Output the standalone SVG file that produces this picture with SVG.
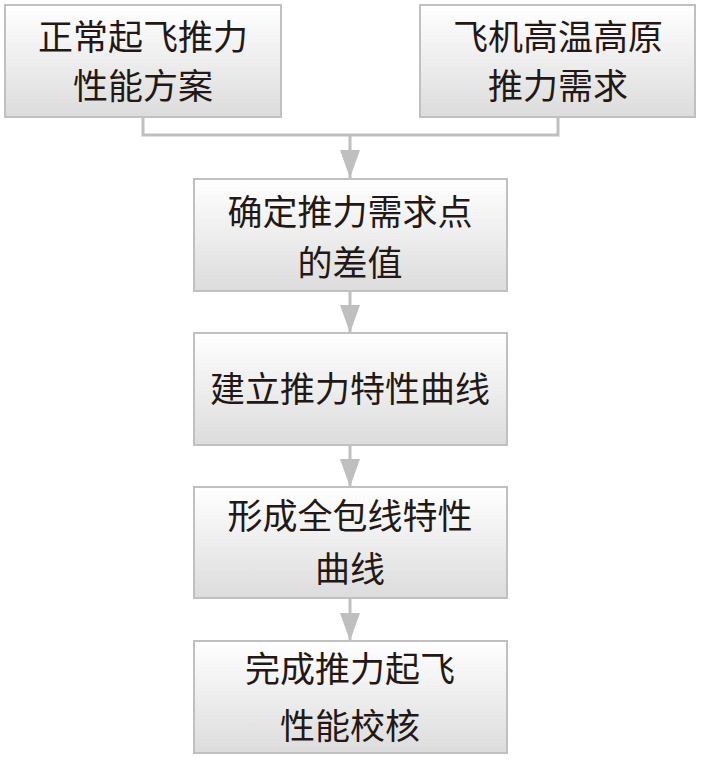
<svg xmlns="http://www.w3.org/2000/svg" width="701" height="762" viewBox="0 0 701 762">
<defs>
<linearGradient id="g" x1="0" y1="0" x2="0" y2="1">
<stop offset="0" stop-color="#ffffff"/>
<stop offset="1" stop-color="#dcdcdc"/>
</linearGradient>
<marker id="ah" markerUnits="userSpaceOnUse" markerWidth="28" markerHeight="20" refX="28" refY="10" orient="auto" viewBox="0 0 28 20">
<path d="M0,0 L28,10 L0,20 Z" fill="#bfbfbf"/>
</marker>
</defs>
<style>
.box{fill:url(#g);stroke:#c0c0c0;stroke-width:2}
.t{font-family:"Liberation Serif","Noto Sans CJK SC",serif;font-size:35px;fill:#231815;text-anchor:middle}
.c{fill:none;stroke:#bfbfbf;stroke-width:3}
</style>
<rect width="701" height="762" fill="#ffffff"/>
<g id="connectors">
<path class="c" d="M143,117 V135 H558 V117"/>
<line class="c" x1="350" y1="135" x2="350" y2="178" marker-end="url(#ah)"/>
<line class="c" x1="350" y1="291" x2="350" y2="333" marker-end="url(#ah)"/>
<line class="c" x1="350" y1="445" x2="350" y2="487" marker-end="url(#ah)"/>
<line class="c" x1="350" y1="598" x2="350" y2="641" marker-end="url(#ah)"/>
</g>
<g id="n1">
<rect class="box" x="5" y="5" width="276" height="112"/>
<text class="t" x="143" y="50">正常起飞推力</text>
<text class="t" x="143" y="99">性能方案</text>
</g>
<g id="n2">
<rect class="box" x="420" y="5" width="275" height="112"/>
<text class="t" x="558" y="50">飞机高温高原</text>
<text class="t" x="558" y="99">推力需求</text>
</g>
<g id="n3">
<rect class="box" x="194" y="179" width="313" height="112"/>
<text class="t" x="350" y="225">确定推力需求点</text>
<text class="t" x="350" y="276">的差值</text>
</g>
<g id="n4">
<rect class="box" x="194" y="333" width="313" height="112"/>
<text class="t" x="350" y="402">建立推力特性曲线</text>
</g>
<g id="n5">
<rect class="box" x="194" y="487" width="313" height="111"/>
<text class="t" x="350" y="529">形成全包线特性</text>
<text class="t" x="350" y="582">曲线</text>
</g>
<g id="n6">
<rect class="box" x="194" y="641" width="313" height="112"/>
<text class="t" x="350" y="682">完成推力起飞</text>
<text class="t" x="350" y="739">性能校核</text>
</g>
</svg>
